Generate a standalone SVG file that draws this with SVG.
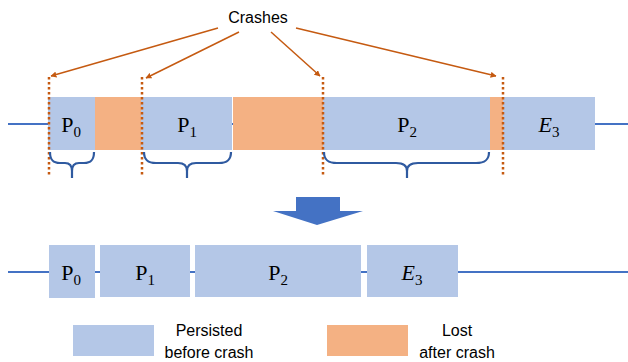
<svg xmlns="http://www.w3.org/2000/svg" width="628" height="362" viewBox="0 0 628 362">
<style>
.persist{fill:#B4C7E7}
.lost{fill:#F4B183}
.axis{stroke:#4472C4;stroke-width:2;fill:none}
.crash{stroke:#C55A11;stroke-width:2.5;stroke-dasharray:2.5 2.5;fill:none}
.ptr{stroke:#C55A11;stroke-width:1.5;fill:none;marker-end:url(#ah)}
.brace{stroke:#2F5AA0;stroke-width:2.2;fill:none}
.lbl{font-family:"Liberation Serif",serif;font-size:22px;fill:#000;text-anchor:middle}
.sub{font-size:15px}
.txt{font-family:"Liberation Sans",Arial,sans-serif;font-size:16px;fill:#000;text-anchor:middle}
</style>
<defs>
<marker id="ah" viewBox="0 0 10 10" refX="9" refY="5" markerWidth="6" markerHeight="6" orient="auto" markerUnits="userSpaceOnUse">
<path d="M0,0 L10,5 L0,10 z" fill="#C55A11"/>
</marker>
</defs>

<text id="crashes" class="txt" x="258" y="23">Crashes</text>

<g id="connectors">
<line class="axis" x1="8" y1="124" x2="628" y2="124"/>
<line class="axis" x1="8" y1="272" x2="628" y2="272"/>
<line class="ptr" x1="218" y1="28" x2="51" y2="76"/>
<line class="ptr" x1="239" y1="32" x2="146" y2="78"/>
<line class="ptr" x1="271" y1="32" x2="320" y2="76"/>
<line class="ptr" x1="296" y1="28" x2="496" y2="76"/>
</g>

<g id="top-row">
<g id="t-p0"><rect class="persist" x="48" y="97" width="47" height="53"/><text class="lbl" x="71" y="132">P<tspan class="sub" dy="5">0</tspan></text></g>
<g id="t-lost1"><rect class="lost" x="95" y="97" width="46" height="53"/></g>
<g id="t-p1"><rect class="persist" x="141" y="97" width="91" height="53"/><text class="lbl" x="187" y="132">P<tspan class="sub" dy="5">1</tspan></text></g>
<g id="t-lost2"><rect class="lost" x="233" y="97" width="90" height="53"/></g>
<g id="t-p2"><rect class="persist" x="323" y="97" width="167" height="53"/><text class="lbl" x="407" y="132">P<tspan class="sub" dy="5">2</tspan></text></g>
<g id="t-lost3"><rect class="lost" x="490" y="97" width="13" height="53"/></g>
<g id="t-e3"><rect class="persist" x="503" y="97" width="92" height="53"/><text class="lbl" x="549" y="132"><tspan font-style="italic">E</tspan><tspan class="sub" dy="5">3</tspan></text></g>
</g>

<g id="crash-lines">
<line class="crash" x1="49" y1="77" x2="49" y2="175"/>
<line class="crash" x1="142" y1="77" x2="142" y2="175"/>
<line class="crash" x1="323" y1="77" x2="323" y2="175"/>
<line class="crash" x1="503" y1="77" x2="503" y2="175"/>
</g>

<g id="braces">
<path class="brace" d="M50,152 C50,160 53,163 60,163 L65,163 C70,163 72,166 72,171 M94,152 C94,160 91,163 84,163 L79,163 C74,163 72,166 72,171 L72,178"/>
<path class="brace" d="M144,152 C144,160 148,163 156,163 L178,163 C184,163 187,166 187,171 M231,152 C231,160 227,163 219,163 L196,163 C190,163 187,166 187,171 L187,178"/>
<path class="brace" d="M324,152 C324,160 328,163 337,163 L396,163 C403,163 407,166 407,171 M489,152 C489,160 485,163 476,163 L418,163 C411,163 407,166 407,171 L407,178"/>
</g>

<g id="big-arrow">
<path d="M296,197 L340,197 L340,211 L363,211 L317,225 L273,211 L296,211 z" fill="#4472C4"/>
</g>

<g id="bottom-row">
<g id="b-p0"><rect class="persist" x="49" y="245" width="46" height="53"/><text class="lbl" x="71" y="280">P<tspan class="sub" dy="5">0</tspan></text></g>
<g id="b-p1"><rect class="persist" x="100" y="245" width="90" height="52"/><text class="lbl" x="145" y="280">P<tspan class="sub" dy="5">1</tspan></text></g>
<g id="b-p2"><rect class="persist" x="195" y="245" width="166" height="52"/><text class="lbl" x="278" y="280">P<tspan class="sub" dy="5">2</tspan></text></g>
<g id="b-e3"><rect class="persist" x="367" y="245" width="91" height="52"/><text class="lbl" x="412" y="280"><tspan font-style="italic">E</tspan><tspan class="sub" dy="5">3</tspan></text></g>
</g>

<g id="legend">
<g id="legend-persist"><rect class="persist" x="73" y="325" width="81" height="31"/><text class="txt" x="209" y="336">Persisted</text><text class="txt" x="209" y="358">before crash</text></g>
<g id="legend-lost"><rect class="lost" x="327" y="325" width="81" height="31"/><text class="txt" x="457" y="336">Lost</text><text class="txt" x="457" y="358">after crash</text></g>
</g>
</svg>
